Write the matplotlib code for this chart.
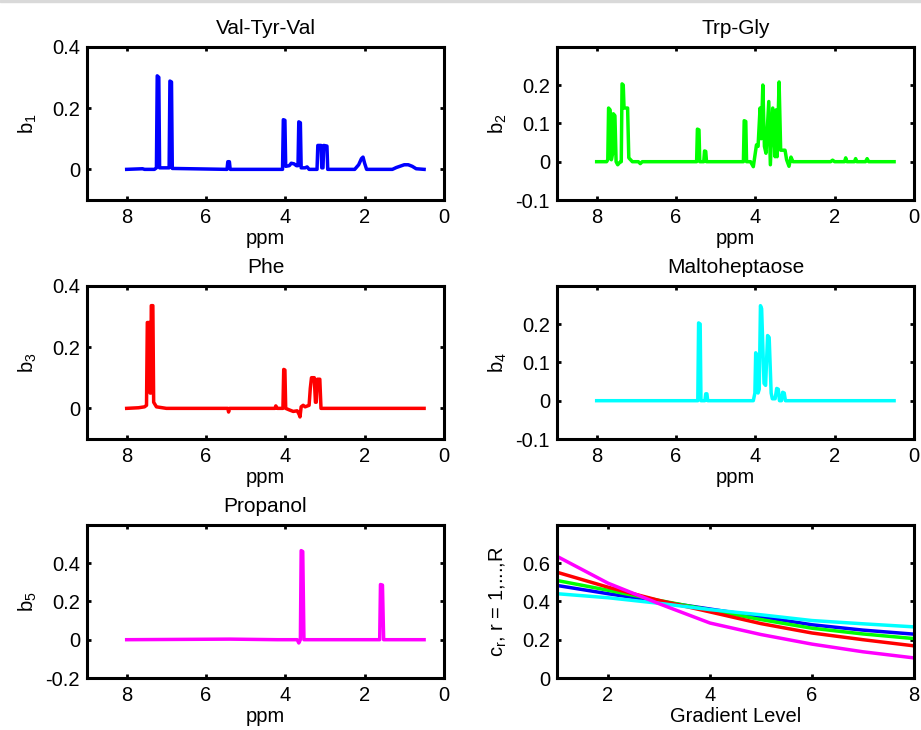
import numpy as np
import matplotlib
matplotlib.use('Agg')
import matplotlib.pyplot as plt
from matplotlib.patches import Rectangle

plt.rcParams['font.family'] = ['Liberation Sans', 'DejaVu Sans']
plt.rcParams['font.size'] = 14.5

# spectra (ppm, intensity)
b1_ppm = [8.0, 7.6, 7.55, 7.3, 7.25, 7.23, 7.19, 7.17, 6.93, 6.91, 6.87, 6.85,
          5.47, 5.45, 5.41, 5.39, 4.07, 4.05, 4.01, 3.99, 3.9, 3.85, 3.78, 3.72,
          3.68, 3.66, 3.62, 3.60, 3.50, 3.45, 3.40, 3.20, 3.18, 3.10, 3.08, 3.05,
          3.03, 2.95, 2.93, 2.25, 2.15, 2.08, 2.04, 2.00, 1.95, 1.3, 1.2, 1.0,
          0.9, 0.8, 0.7, 0.5]
b1_val = [0.0, 0.002, 0.0, 0.0, 0.005, 0.305, 0.30, 0.005, 0.005, 0.288, 0.285, 0.003,
          0.0, 0.025, 0.025, 0.0, 0.0, 0.162, 0.16, 0.01, 0.012, 0.02, 0.018, 0.012,
          0.012, 0.155, 0.152, 0.005, 0.005, 0.008, 0.0, 0.0, 0.078, 0.078, 0.005, 0.005,
          0.078, 0.076, 0.0, 0.0, 0.015, 0.035, 0.04, 0.02, 0.0, 0.0, 0.006, 0.015,
          0.015, 0.01, 0.002, 0.0]

b2_ppm = [8.0, 7.75, 7.72, 7.70, 7.66, 7.63, 7.60, 7.58, 7.54, 7.51, 7.47, 7.42,
          7.38, 7.36, 7.33, 7.31, 7.22, 7.19, 7.1, 6.95, 6.9, 6.85,
          5.48, 5.46, 5.42, 5.40, 5.30, 5.28, 5.25, 5.23, 4.30, 4.28, 4.24, 4.22,
          4.12, 4.05, 3.97, 3.93, 3.88, 3.85, 3.81, 3.77, 3.73, 3.66, 3.62, 3.56,
          3.50, 3.48, 3.45, 3.40, 3.36, 3.25, 3.21, 3.15, 3.10, 3.05,
          2.10, 2.05, 2.0, 1.75, 1.72, 1.69, 1.5, 1.47, 1.44, 1.22, 1.18, 1.14, 0.5]
b2_val = [0.0, 0.0, 0.005, 0.14, 0.135, 0.005, 0.02, 0.125, 0.12, 0.0, -0.008, -0.002,
          0.0, 0.203, 0.2, 0.14, 0.14, 0.01, 0.0, 0.0, -0.005, 0.0,
          0.0, 0.085, 0.083, 0.0, 0.0, 0.028, 0.027, 0.0, 0.0, 0.107, 0.105, 0.0,
          0.0, -0.013, 0.044, 0.04, 0.14, 0.06, 0.2, 0.04, 0.022, 0.157, -0.008, 0.14,
          0.013, 0.135, 0.013, 0.208, 0.03, 0.03, 0.005, -0.012, 0.012, 0.0,
          0.0, 0.004, 0.0, 0.0, 0.01, 0.0, 0.0, 0.008, 0.0, 0.0, 0.008, 0.0, 0.0]

b3_ppm = [8.0, 7.7, 7.55, 7.5, 7.48, 7.42, 7.41, 7.39, 7.38, 7.34, 7.32, 7.25,
          7.0, 5.45, 5.43, 5.41, 4.26, 4.24, 4.2, 4.06, 4.04, 4.01, 3.99, 3.9,
          3.8, 3.7, 3.65, 3.63, 3.60, 3.55, 3.50, 3.40, 3.37, 3.34, 3.27, 3.24,
          3.22, 3.19, 3.13, 3.10, 0.5]
b3_val = [0.0, 0.002, 0.005, 0.01, 0.28, 0.28, 0.05, 0.05, 0.335, 0.335, 0.02, 0.005,
          0.0, 0.0, -0.012, 0.0, 0.0, 0.008, 0.0, 0.0, 0.127, 0.125, 0.0, -0.005,
          -0.01, -0.008, -0.02, -0.028, 0.005, 0.01, 0.005, 0.01, 0.065, 0.1, 0.1, 0.02,
          0.02, 0.095, 0.095, 0.0, 0.0]

b4_ppm = [8.0, 5.45, 5.43, 5.39, 5.37, 5.27, 5.25, 5.22, 5.20, 4.05, 4.01, 3.99,
          3.96, 3.93, 3.90, 3.87, 3.84, 3.78, 3.74, 3.69, 3.65, 3.60, 3.57, 3.50,
          3.46, 3.42, 3.39, 3.34, 3.31, 3.27, 3.24, 0.5]
b4_val = [0.0, 0.0, 0.203, 0.2, 0.0, 0.0, 0.018, 0.018, 0.0, 0.0, 0.02, 0.125,
          0.12, 0.02, 0.03, 0.248, 0.24, 0.045, 0.04, 0.17, 0.165, 0.02, 0.005, 0.005,
          0.032, 0.03, 0.0, 0.0, 0.022, 0.02, 0.0, 0.0]

b5_ppm = [8.0, 5.4, 4.2, 3.70, 3.66, 3.62, 3.60, 3.56, 3.53, 1.62, 1.60, 1.55, 1.52, 0.5]
b5_val = [0.0, 0.003, 0.0, 0.0, -0.017, 0.0, 0.465, 0.46, 0.0, 0.0, 0.288, 0.285, 0.0, 0.0]

# concentration profiles
grad = [1, 2, 3, 4, 5, 6, 7, 8]
c_blue = [0.483, 0.44, 0.40, 0.36, 0.32, 0.278, 0.25, 0.229]
c_green = [0.509, 0.458, 0.405, 0.355, 0.305, 0.26, 0.23, 0.206]
c_red = [0.552, 0.474, 0.405, 0.345, 0.284, 0.235, 0.2, 0.168]
c_cyan = [0.44, 0.419, 0.39, 0.357, 0.33, 0.30, 0.283, 0.267]
c_magenta = [0.635, 0.495, 0.388, 0.287, 0.227, 0.177, 0.137, 0.105]

BLUE, GREEN, RED, CYAN, MAG = '#0000ff', '#00ff00', '#ff0000', '#00ffff', '#ff00ff'

spectra = [
    ('Val-Tyr-Val', 'b_1', b1_ppm, b1_val, BLUE, (-0.1, 0.4), [0, 0.2, 0.4]),
    ('Trp-Gly', 'b_2', b2_ppm, b2_val, GREEN, (-0.1, 0.3), [-0.1, 0, 0.1, 0.2]),
    ('Phe', 'b_3', b3_ppm, b3_val, RED, (-0.1, 0.4), [0, 0.2, 0.4]),
    ('Maltoheptaose', 'b_4', b4_ppm, b4_val, CYAN, (-0.1, 0.3), [-0.1, 0, 0.1, 0.2]),
    ('Propanol', 'b_5', b5_ppm, b5_val, MAG, (-0.2, 0.6), [-0.2, 0, 0.2, 0.4]),
]

fig = plt.figure(figsize=(9.21, 7.3), dpi=100)
# thin grey edge at the top of the screenshot
fig.patches.append(Rectangle((0, 0.997), 1, 0.003, transform=fig.transFigure,
                             color='#d9d9d9', zorder=0))

lefts = [0.0945, 0.6048]
bottoms = [0.726, 0.3986, 0.0712]
w, h = 0.3875, 0.21


def style(ax):
    for s in ax.spines.values():
        s.set_linewidth(2.2)
    ax.tick_params(direction='in', length=3, width=2, top=True, right=True,
                   pad=6)
    ax.tick_params(axis='y', pad=5)


axes = []
for i in range(6):
    ax = fig.add_axes([lefts[i % 2], bottoms[i // 2], w, h])
    style(ax)
    axes.append(ax)

for ax, (title, lab, ppm, val, col, ylim, yt) in zip(axes, spectra):
    ax.plot(ppm, val, color=col, lw=2.5)
    ax.set_xlim(9, 0)
    ax.set_ylim(*ylim)
    ax.set_xticks([8, 6, 4, 2, 0])
    ax.set_yticks(yt)
    ax.set_yticklabels(['%g' % v for v in yt])
    ax.set_title(title, fontsize=15, pad=9)
    ax.set_xlabel('ppm', labelpad=1)
    ax.set_ylabel(r'$\mathregular{%s}$' % lab)
    ax.yaxis.set_label_coords(-0.135, 0.5)

ax = axes[5]
for c, col in zip([c_blue, c_green, c_red, c_cyan, c_magenta],
                  [BLUE, GREEN, RED, CYAN, MAG]):
    ax.plot(grad, c, color=col, lw=2.5)
ax.set_xlim(1, 8)
ax.set_ylim(0, 0.8)
ax.set_xticks([2, 4, 6, 8])
ax.set_yticks([0, 0.2, 0.4, 0.6])
ax.set_yticklabels(['0', '0.2', '0.4', '0.6'])
ax.set_xlabel('Gradient Level', labelpad=1)
ax.set_ylabel(r'$\mathregular{c_r}$, r = 1,...,R')
ax.yaxis.set_label_coords(-0.135, 0.5)

fig.savefig('out.png', dpi=100)
